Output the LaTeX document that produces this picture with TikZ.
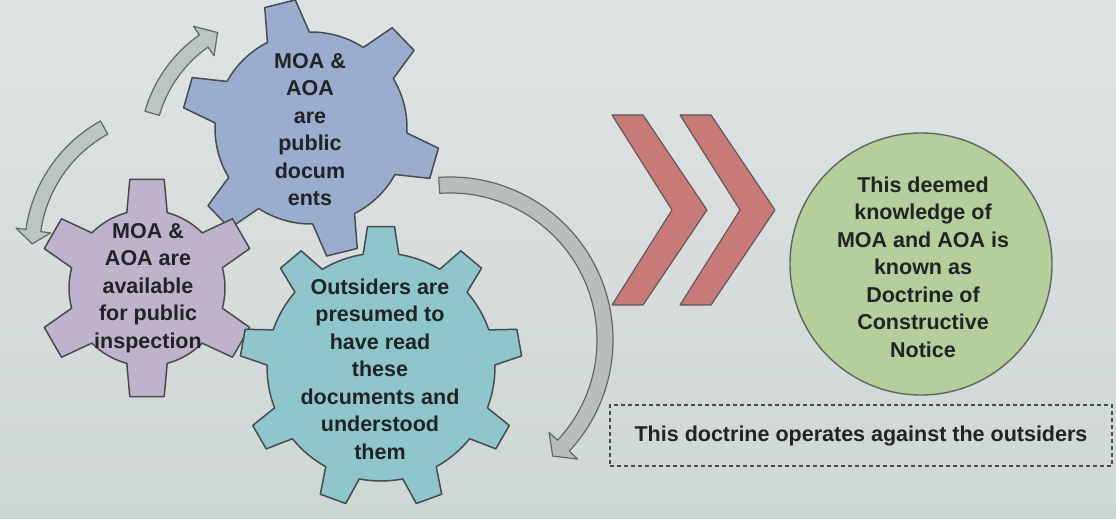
\documentclass[tikz,border=0pt]{standalone}
\usepackage{fontspec}
\setmainfont{Liberation Sans}
\begin{document}

% gear outline: style, cx, cy, teeth, tip radius, root radius, first tooth angle, tip half-angle, root half-angle
\newcommand{\drawgear}[9]{%
  \begin{scope}[shift={(#2,#3)}]
    \path[#1] ({#7-#9}:#6pt)
      \foreach \k in {1,...,#4}{
        -- ({#7+(\k-1)*360/#4-#9}:#6pt)
        -- ({#7+(\k-1)*360/#4-#8}:#5pt)
        -- ({#7+(\k-1)*360/#4+#8}:#5pt)
        -- ({#7+(\k-1)*360/#4+#9}:#6pt)
        arc[start angle={#7+(\k-1)*360/#4+#9}, end angle={#7+\k*360/#4-#9}, radius=#6pt]
      } -- cycle;
  \end{scope}}

% block arrow bent along a circle: style, cx, cy, radius, start, end, half width, head half width, tip angle
\newcommand{\bentarrow}[9]{%
  \begin{scope}[shift={(#2,#3)}]
    \path[#1] ({#5}:{#4pt+#7pt})
      arc[start angle=#5, end angle=#6, radius={#4pt+#7pt}]
      -- ({#6}:{#4pt+#8pt}) -- ({#9}:#4pt) -- ({#6}:{#4pt-#8pt})
      -- ({#6}:{#4pt-#7pt})
      arc[start angle=#6, end angle=#5, radius={#4pt-#7pt}] -- cycle;
  \end{scope}}

\definecolor{bgtop}{RGB}{222,228,227}
\definecolor{bgbot}{RGB}{207,214,214}
\definecolor{edge}{RGB}{72,76,78}
\definecolor{ink}{RGB}{32,36,36}
\definecolor{gearblue}{RGB}{154,173,207}
\definecolor{gearlilac}{RGB}{190,178,205}
\definecolor{gearteal}{RGB}{142,198,204}
\definecolor{noticegreen}{RGB}{180,206,156}
\definecolor{chevron}{RGB}{200,122,121}
\definecolor{arrowgrey}{RGB}{186,198,194}
\definecolor{arrowgreyb}{RGB}{184,190,190}
\definecolor{arrowedge}{RGB}{96,104,104}

\begin{tikzpicture}[x=1pt,y=1pt,
  gearstyle/.style={draw=edge, line width=1.5pt, line join=round, fill=#1},
  bent/.style={draw=arrowedge, line width=1.2pt, line join=round, fill=#1},
  chev/.style={draw=edge!85!chevron, line width=1.1pt, fill=chevron, line join=round},
  label/.style={align=center, inner sep=0pt, text=ink,
    font=\fontsize{21.5}{27.5}\selectfont\bfseries}]

% page and backdrop
\useasboundingbox (0,0) rectangle (1116,519);
\shade[top color=bgtop, bottom color=bgbot] (0,0) rectangle (1116,519);

% curved arrows around the gears
\bentarrow{bent=arrowgrey}{280}{369}{133}{164}{125}{7.5}{18}{118}
\bentarrow{bent=arrowgrey}{172}{269}{140}{119}{172}{7.5}{17.5}{177.5}
\bentarrow{bent=arrowgreyb}{450}{179}{155}{94}{-43}{8}{19.5}{-48.5}

% the three gears
\drawgear{gearstyle=gearblue}{311}{391}{6}{129}{96}{104}{7}{13}
\drawgear{gearstyle=gearlilac}{147}{231}{6}{110}{78}{30}{9}{15}
\drawgear{gearstyle=gearteal}{381}{152}{9}{141}{114}{90}{5.5}{9}

\node[label] (public) at (310,389.5) {MOA \&\\AOA\\are\\public\\docum\\ents};
\node[label] (inspect) at (148,231) {MOA \&\\AOA are\\available\\for public\\inspection};
\node[label] (presumed) at (380,150) {Outsiders are\\presumed to\\have read\\these\\documents and\\understood\\them};

% double chevron
\foreach \dx in {0,68}{
  \path[chev, shift={(\dx,0)}] (612,404) -- (643,404) -- (707,309) -- (643,214)
    -- (612,214) -- (672,309) -- cycle;
}

% result circle
\node[circle, draw=edge!80!noticegreen, line width=1.4pt, fill=noticegreen,
  minimum size=262pt, inner sep=0pt] (notice) at (921,255) {};
\node[label] (noticetext) at (923,252) {This deemed\\knowledge of\\MOA and AOA is\\known as\\Doctrine of\\Constructive\\Notice};

% dashed note
\node[draw=edge, line width=1.2pt, dash pattern=on 4pt off 3pt,
  minimum width=502pt, minimum height=61pt, inner sep=0pt] (note) at (861,83.5) {};
\node[label] (notetext) at (note.center) {This doctrine operates against the outsiders};

\end{tikzpicture}
\end{document}
